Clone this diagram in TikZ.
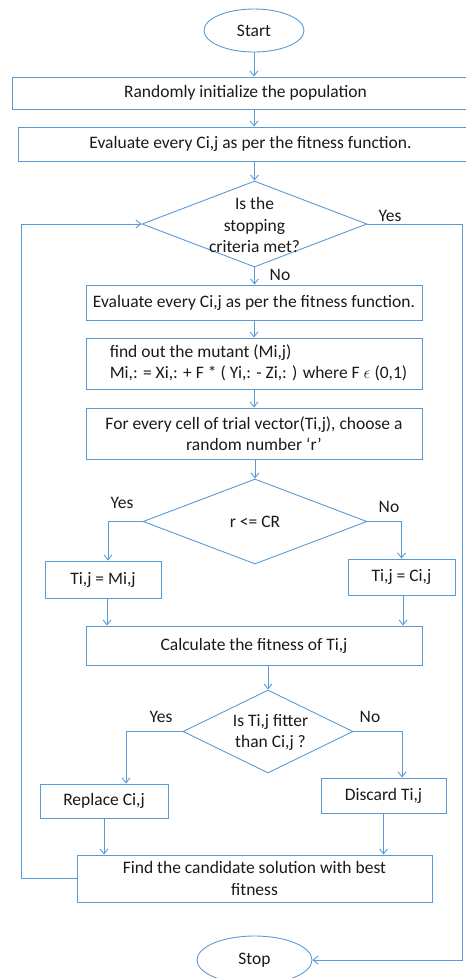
\documentclass[tikz,border=0pt]{standalone}
\usepackage{fontspec}
\setmainfont{Carlito}
\usetikzlibrary{shapes.geometric,arrows.meta}
\definecolor{lb}{HTML}{5B9BD5}
\definecolor{tx}{HTML}{1A1A1A}
\begin{document}
\begin{tikzpicture}[x=1pt,y=-1pt,
  fnt/.style={font=\fontsize{17.5}{21.5}\selectfont},
  box/.style={draw=lb,line width=0.9pt,rectangle,inner sep=0pt,text=tx,fnt,align=center},
  dia/.style={draw=lb,line width=0.9pt,diamond,inner sep=0pt},
  oval/.style={draw=lb,line width=0.9pt,ellipse,inner sep=0pt,text=tx,fnt},
  arr/.style={draw=lb,line width=0.9pt,-{Straight Barb[length=5pt,width=8pt]}},
  lab/.style={text=tx,fnt,inner sep=0pt,align=center}]
\useasboundingbox (0,0) rectangle (466,978);

\node[oval,minimum width=100pt,minimum height=43pt] (start) at (254,30.5) {Start};
\node[box,minimum width=467pt,minimum height=32pt] (b1) at (245.5,93) {Randomly initialize the population};
\node[box,minimum width=465pt,minimum height=34pt] (b2) at (250.5,144) {Evaluate every Ci,j as per the fitness function.};
\node[dia,minimum width=225pt,minimum height=86pt] (d1) at (254.5,224) {};
\node[lab] (d1t) at (254.5,225) {Is the\\stopping\\criteria met?};
\node[box,minimum width=336pt,minimum height=35pt] (b3) at (254,302.5) {Evaluate every Ci,j as per the fitness function.};
\node[box,minimum width=336pt,minimum height=51pt] (b4) at (254,363.5) {\hspace*{9pt}\begin{tabular}{@{}l@{}}find out the mutant (Mi,j)\\Mi,: = Xi,: + F * ( Yi,: - Zi,: ) where F $\epsilon$ (0,1)\end{tabular}};
\node[box,minimum width=336pt,minimum height=51pt] (b5) at (254,433.5) {For every cell of trial vector(Ti,j), choose a\\random number ‘r’};
\node[dia,minimum width=224pt,minimum height=85pt] (d2) at (255,521.5) {};
\node[lab] (d2t) at (255,522) {r <= CR};
\node[box,minimum width=116pt,minimum height=37pt] (b6) at (103,579.5) {Ti,j = Mi,j};
\node[box,minimum width=107pt,minimum height=36pt] (b7) at (401.5,577) {Ti,j = Ci,j};
\node[box,minimum width=336pt,minimum height=39pt] (b8) at (254,645.5) {Calculate the fitness of Ti,j};
\node[dia,minimum width=170pt,minimum height=83pt] (d3) at (268,731.5) {};
\node[lab] (d3t) at (270.5,732.5) {Is Ti,j fitter\\than Ci,j ?};
\node[box,minimum width=128pt,minimum height=34pt] (b9) at (104,801) {Replace Ci,j};
\node[box,minimum width=125pt,minimum height=35pt] (b10) at (383.5,795.5) {Discard Ti,j};
\node[box,minimum width=355pt,minimum height=47pt] (b11) at (254.5,878.5) {Find the candidate solution with best\\fitness};
\node[oval,minimum width=115pt,minimum height=48pt] (stop) at (254.5,960) {Stop};

\node[lab] (y1) at (390,216) {Yes};
\node[lab] (n1) at (280,275) {No};
\node[lab] (y2) at (122,503) {Yes};
\node[lab] (n2) at (389,507) {No};
\node[lab] (y3) at (161,717) {Yes};
\node[lab] (n3) at (370,717) {No};

\coordinate (k1) at (108,521.5);
\coordinate (k3) at (126,731.5);
\coordinate (k4) at (402,731.5);
\coordinate (lp) at (21,0);
\coordinate (rp) at (462,0);

\draw[arr] (start.south) -- (start.south |- b1.north);
\draw[arr] (b1.south -| start) -- (b2.north -| start);
\draw[arr] (b2.south -| d1) -- (d1.north);
\draw[arr] (d1.south) -- (d1.south |- b3.north);
\draw[arr] (b3.south) -- (b4.north);
\draw[arr] (b4.south) -- (b5.north);
\draw[arr] (b5.south -| d2) -- (d2.north);
\draw[arr] (d2.west) -- (k1) -- (k1 |- b6.north);
\draw[arr] (d2.east) -| (b7.north);
\draw[arr] ([xshift=4pt]b6.south) -- ([xshift=4pt]b6.south |- b8.north);
\draw[arr] ([xshift=1.5pt]b7.south) -- ([xshift=1.5pt]b7.south |- b8.north);
\draw[arr] (b8.south -| d3) -- (d3.north);
\draw[arr] (d3.west) -- (k3) -- (k3 |- b9.north);
\draw[arr] (d3.east) -- (k4) -- (k4 |- b10.north);
\draw[arr] (b9.south) -- (b9.south |- b11.north);
\draw[arr] (b10.south) -- (b10.south |- b11.north);
\draw[arr] (b11.west) -- (b11.west -| lp) -- (d1.west -| lp) -- (d1.west);
\draw[arr] (d1.east) -- (d1.east -| rp) -- (stop.east -| rp) -- (stop.east);
\end{tikzpicture}
\end{document}
